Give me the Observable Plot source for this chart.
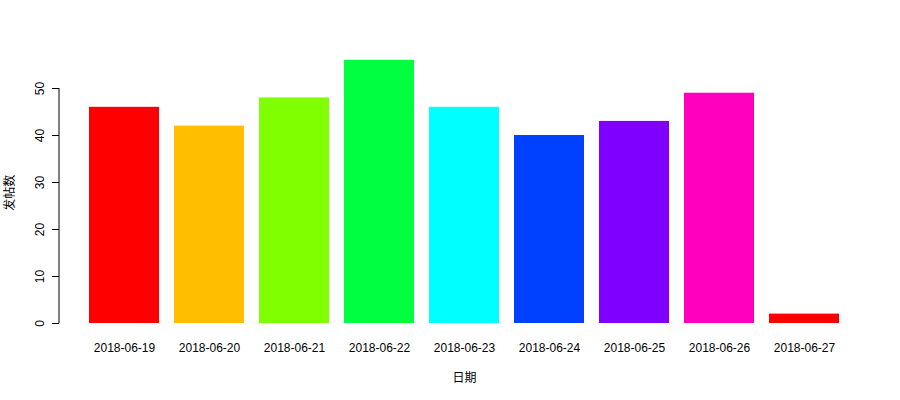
<!DOCTYPE html>
<html>
<head>
<meta charset="utf-8">
<script src="https://cdn.jsdelivr.net/npm/d3@7"></script>
<script src="https://cdn.jsdelivr.net/npm/@observablehq/plot@0.6"></script>
<style>
  html, body { margin: 0; padding: 0; background: #fff; }
</style>
</head>
<body>
<div id="chart"></div>
<script>
const dates = ["2018-06-19","2018-06-20","2018-06-21","2018-06-22","2018-06-23","2018-06-24","2018-06-25","2018-06-26","2018-06-27"];
const counts = [46, 42, 48, 56, 46, 40, 43, 49, 2];
const barColors = ["#FF0000","#FFBF00","#80FF00","#00FF40","#00FFFF","#0040FF","#8000FF","#FF00BF","#FF0000"];
const yTicks = [0, 10, 20, 30, 40, 50];
const xTitle = "日期";
const yTitle = "发帖数";

const data = dates.map((d, i) => ({date: d, count: counts[i], color: barColors[i]}));

const axisLine = (index, scales) => {
  const g = d3.create("svg:g");
  const x = 59;
  g.append("line")
    .attr("x1", x).attr("x2", x)
    .attr("y1", scales.y(yTicks[0])).attr("y2", scales.y(yTicks[yTicks.length - 1]))
    .attr("stroke", "black");
  return g.node();
};

const chart = Plot.plot({
  width: 900,
  height: 400,
  marginLeft: 59,
  marginRight: 31,
  marginTop: 49.3,
  marginBottom: 77,
  style: {fontFamily: "'Liberation Sans', Arial, sans-serif", fontSize: "12px", color: "black", background: "white"},
  x: {domain: dates, paddingInner: 15/85, paddingOuter: 30/85, align: 0.5},
  y: {domain: [0, 58.24]},
  marks: [
    Plot.barY(data, {x: "date", y: "count", fill: "color"}),
    Plot.axisY({ticks: yTicks, tickSize: 7, tickRotate: -90, tickPadding: 9, label: null, fill: "black", stroke: "black"}),
    axisLine,
    Plot.axisX({tickSize: 0, tickPadding: 20, label: null, fill: "black"}),
    Plot.text([xTitle], {text: d => d, frameAnchor: "bottom", dy: 58, fontFamily: "'Noto Sans CJK SC', sans-serif", fontSize: 12, fill: "black"}),
    Plot.text([yTitle], {text: d => d, frameAnchor: "left", dx: -49, dy: 24, rotate: -90, fontFamily: "'Noto Sans CJK SC', sans-serif", fontSize: 12, fill: "black"})
  ]
});
document.getElementById("chart").appendChild(chart);
</script>
</body>
</html>
